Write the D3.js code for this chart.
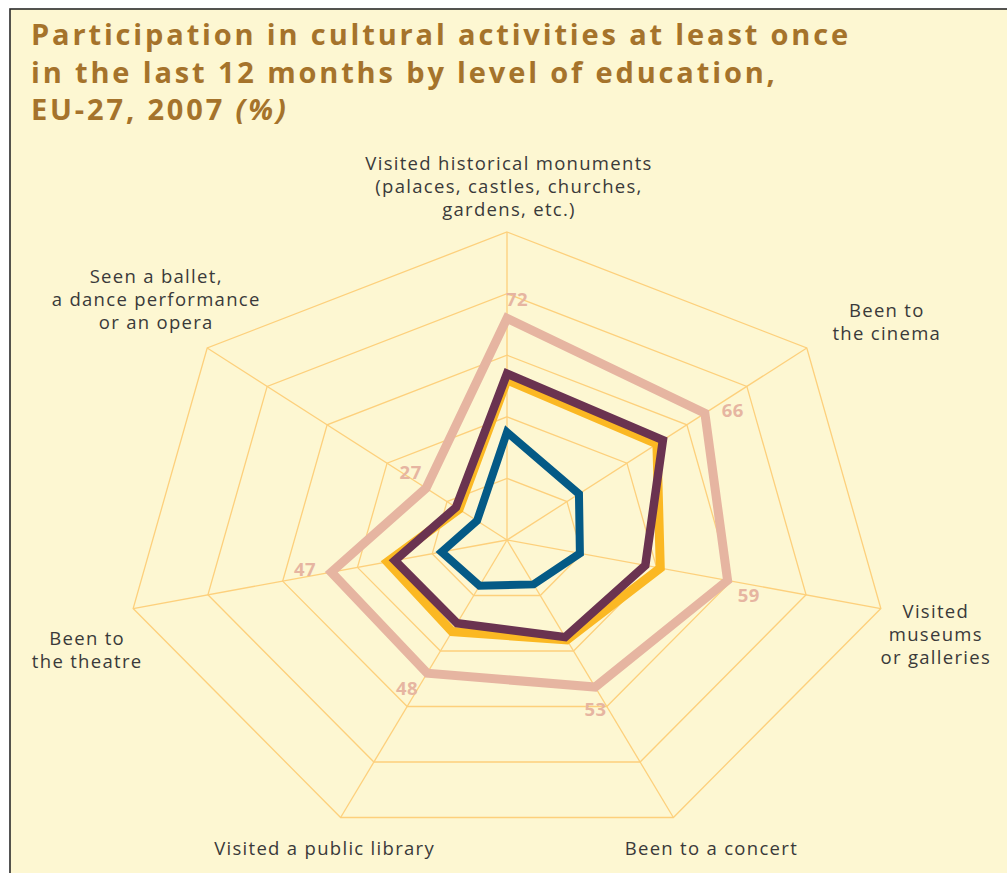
<!DOCTYPE html>
<html>
<head>
<meta charset="utf-8">
<script src="https://cdn.jsdelivr.net/npm/d3@7"></script>
<style>
  html, body { margin: 0; padding: 0; background: #ffffff; }
  svg { display: block; }
</style>
</head>
<body>
<svg id="chart" width="1007" height="873"></svg>
<script>
// ---------- data ----------
const categories = [
  ["Visited historical monuments", "(palaces, castles, churches,", "gardens, etc.)"],
  ["Been to", "the cinema"],
  ["Visited", "museums", "or galleries"],
  ["Been to a concert"],
  ["Visited a public library"],
  ["Been to", "the theatre"],
  ["Seen a ballet,", "a dance performance", "or an opera"]
];
const tertiary        = [72, 66, 59, 53, 48, 47, 27];
const total           = [52, 50, 41, 36, 33, 32, 16];
const upperSecondary  = [54, 52, 37, 35, 30, 30, 17];
const lowerSecondary  = [35, 24, 19.5, 16, 16.5, 17.5, 10];
const ringTicks       = [20, 40, 60, 80, 100];
const titleLines = [
  "Participation in cultural activities at least once",
  "in the last 12 months by level of education,",
  "EU-27, 2007 "
];

// ---------- layout ----------
const W = 1007, H = 873;
const cx = 507, cy = 540;
const R = 308;          // vertical radius of 100 %
const stretchX = 1.245; // chart is stretched horizontally
const n = categories.length;

const svg = d3.select("#chart");

// frame
svg.append("rect").attr("x", 0).attr("y", 0).attr("width", W).attr("height", H).attr("fill", "#ffffff");
svg.append("rect").attr("x", 10).attr("y", 9).attr("width", W + 20).attr("height", H + 20)
  .attr("fill", "#fdf7d2").attr("stroke", "#2a2a2a").attr("stroke-width", 1.6);

const r = d3.scaleLinear().domain([0, 100]).range([0, R]);
const angle = d3.scaleLinear().domain([0, n]).range([0, 2 * Math.PI]);

function pt(i, v, dAng) {
  const a = angle(i) + (dAng || 0);
  return [cx + stretchX * r(v) * Math.sin(a), cy - r(v) * Math.cos(a)];
}

const g = svg.append("g");
const gridColor = "#fdd07c";

// rings
g.selectAll("polygon.ring").data(ringTicks).join("polygon")
  .attr("class", "ring")
  .attr("points", t => d3.range(n).map(i => pt(i, t).join(",")).join(" "))
  .attr("fill", "none").attr("stroke", gridColor).attr("stroke-width", 1.3);

// spokes
g.selectAll("line.spoke").data(d3.range(n)).join("line")
  .attr("class", "spoke")
  .attr("x1", cx).attr("y1", cy)
  .attr("x2", i => pt(i, 100)[0]).attr("y2", i => pt(i, 100)[1])
  .attr("stroke", gridColor).attr("stroke-width", 1.3);

// series
const series = [
  { values: tertiary,       color: "#e6b5a1", width: 9 },
  { values: total,          color: "#fbb823", width: 9 },
  { values: upperSecondary, color: "#6a3350", width: 8.5 },
  { values: lowerSecondary, color: "#045a86", width: 8 }
];
const line = d3.line().curve(d3.curveLinearClosed);
g.selectAll("path.series").data(series).join("path")
  .attr("class", "series")
  .attr("d", s => line(s.values.map((v, i) => pt(i, v))))
  .attr("fill", "none")
  .attr("stroke", s => s.color)
  .attr("stroke-width", s => s.width)
  .attr("stroke-linejoin", "miter")
  .attr("stroke-miterlimit", 10);

// value labels for the highest series
g.selectAll("text.val").data(tertiary).join("text")
  .attr("class", "val")
  .attr("x", (v, i) => pt(i, v + 6.5, 0.05)[0] - (i === 0 ? 5 : 0))
  .attr("y", (v, i) => pt(i, v + 6.5, 0.05)[1])
  .attr("text-anchor", "middle")
  .attr("dominant-baseline", "central")
  .attr("font-family", "'Open Sans', sans-serif")
  .attr("font-weight", 700)
  .attr("font-size", 18.5)
  .attr("letter-spacing", 0.5)
  .attr("fill", "#e6b5a1")
  .text(v => v);

// category labels: offsets of first baseline from the outer vertex
const labelOffsets = [[2, -62], [80, -31], [55, 9], [38, 38], [-16, 38], [-46, 36], [-51, -65]];
const lineH = 23;
categories.forEach((lines, i) => {
  const [vx, vy] = pt(i, 100);
  lines.forEach((s, k) => {
    svg.append("text")
      .attr("text-anchor", "middle")
      .attr("font-family", "'Open Sans', sans-serif")
      .attr("font-size", 18.5)
      .attr("letter-spacing", 1.3)
      .attr("fill", "#3a3a3a")
      .attr("x", vx + labelOffsets[i][0])
      .attr("y", vy + labelOffsets[i][1] + k * lineH)
      .text(s);
  });
});

// title (one text element per line); letter-spacing fitted so line 1 spans the reference width
const titleWidth = 820;
const titleTexts = titleLines.map((s, k) => {
  const t = svg.append("text")
    .attr("font-family", "'Open Sans', sans-serif")
    .attr("font-weight", 700)
    .attr("font-size", 29)
    .attr("fill", "#a5732b")
    .attr("x", 31).attr("y", 45 + k * 37.5)
    .text(s);
  if (k === titleLines.length - 1) {
    t.append("tspan").attr("font-style", "italic").text("(%)");
  }
  return t;
});
const measured = titleTexts[0].node().getComputedTextLength();
const ls = Math.max(0, Math.min(3.2, (titleWidth - measured) / titleLines[0].length));
titleTexts.forEach(t => t.attr("letter-spacing", ls));
</script>
</body>
</html>
